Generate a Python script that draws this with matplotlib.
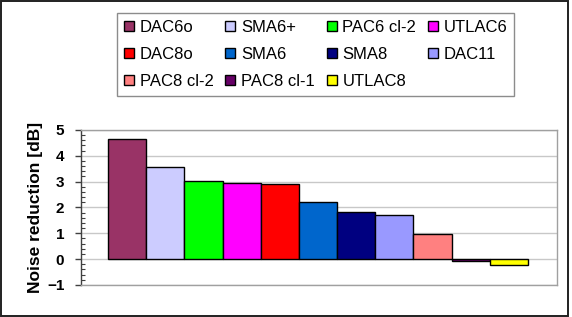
import matplotlib
matplotlib.use("Agg")
import matplotlib.pyplot as plt
from matplotlib.patches import Rectangle
from matplotlib.ticker import MultipleLocator

plt.rcParams['font.family'] = ['Liberation Sans', 'DejaVu Sans']

series = ["DAC6o", "SMA6+", "PAC6 cl-2", "UTLAC6", "DAC8o", "SMA6", "SMA8",
          "DAC11", "PAC8 cl-2", "PAC8 cl-1", "UTLAC8"]
values = [4.65, 3.58, 3.02, 2.95, 2.90, 2.22, 1.83, 1.70, 0.97, -0.06, -0.22]
colors = ["#993366", "#CCCCFF", "#00FF00", "#FF00FF", "#FF0000", "#0066CC",
          "#000080", "#9999FF", "#FF8080", "#660066", "#FFFF00"]

fig = plt.figure(figsize=(5.72, 3.17), dpi=100)
fig.patches.append(Rectangle((0.002, 0.004), 0.991, 0.992, transform=fig.transFigure,
                             fill=False, edgecolor='#202020', linewidth=1.4))

ax = fig.add_axes([0.1416, 0.101, 0.8322, 0.489])
handles = []
for i, (s, v, c) in enumerate(zip(series, values, colors)):
    b = ax.bar(i, v, width=1.0, color=c, edgecolor='black', linewidth=1.0, label=s, zorder=3)
    handles.append(b)

ax.set_xlim(-1.207, 11.26)
ax.set_ylim(-1, 5)
ax.yaxis.set_major_locator(MultipleLocator(1))
ax.yaxis.set_minor_locator(MultipleLocator(0.2))
ax.set_xticks([])
ax.grid(axis='y', color='#C8C8C8', linewidth=1.0, zorder=0)
for sp in ax.spines.values():
    sp.set_color('#A0A0A0')
    sp.set_linewidth(1.0)
ax.spines['left'].set_color('#404040')
ax.tick_params(axis='y', which='major', direction='out', length=4, width=1,
               labelsize=11, color='#404040', pad=8)
ax.tick_params(axis='y', which='minor', direction='in', length=3, width=0.8, color='#404040')
for t in ax.get_yticklabels():
    t.set_fontweight('bold')
ax.set_ylabel("Noise reduction [dB]", fontsize=12.5, fontweight='bold', labelpad=3)

order = [0, 4, 8, 1, 5, 9, 2, 6, 10, 3, 7]
leg = fig.legend([handles[i] for i in order], [series[i] for i in order],
                 ncol=4, loc='upper left', bbox_to_anchor=(0.1905, 0.984),
                 fontsize=12, frameon=True, fancybox=False, edgecolor='#707070',
                 handlelength=0.6, handleheight=0.6, handletextpad=0.35,
                 columnspacing=0.7, labelspacing=0.72, borderpad=0.4)
leg.get_frame().set_linewidth(1.0)

fig.savefig("out.png", dpi=100)
